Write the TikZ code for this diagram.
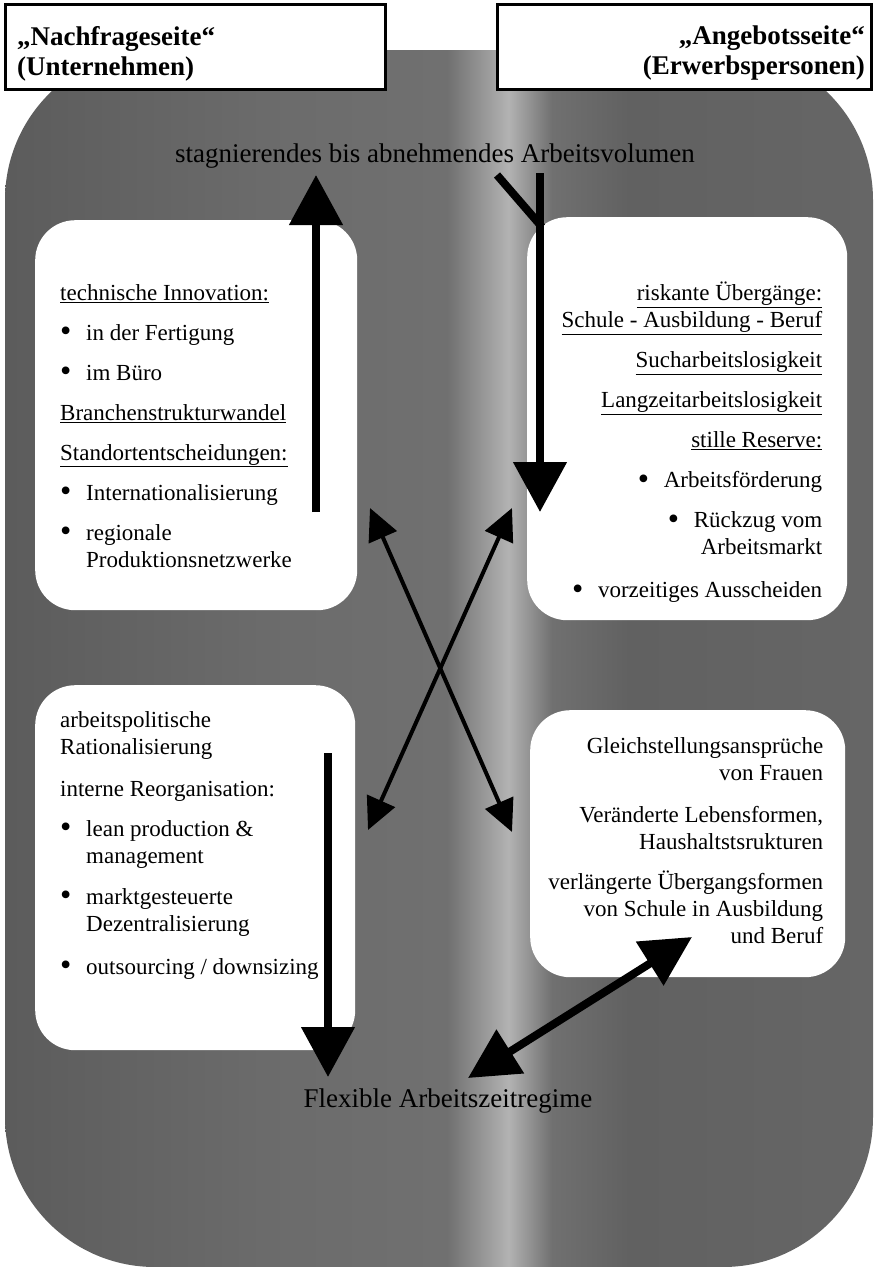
\documentclass[tikz,border=0pt]{standalone}
\usepackage{fontspec}
\setmainfont{Liberation Serif}
\usetikzlibrary{arrows.meta,positioning}

\pgfdeclarehorizontalshading{bandshade}{100bp}{%
  color(0bp)=(black!64); color(25bp)=(black!64); color(40bp)=(black!58);
  color(50.5bp)=(black!56); color(54bp)=(black!30); color(56.5bp)=(black!56);
  color(61bp)=(black!62); color(75bp)=(black!60); color(100bp)=(black!60)}

\newcommand{\bul}{\makebox[26pt][l]{\raisebox{-1.5pt}{\scalebox{1.4}{\textbullet}}}}

\begin{document}
\begin{tikzpicture}[
  x=1pt, y=-1pt,
  headbox/.style={draw=black, line width=3pt, fill=white, anchor=north west,
                  inner sep=0pt, outer sep=0pt},
  headtext/.style={font=\fontsize{27}{30}\selectfont\bfseries, inner sep=0pt},
  panel/.style={fill=white, rounded corners=40pt, anchor=north west, inner sep=0pt},
  list/.style={font=\fontsize{23}{27}\selectfont, inner sep=0pt},
  flow/.style={font=\fontsize{27}{30}\selectfont, inner sep=0pt, anchor=base},
  bigarr/.style={line width=8pt, -{Triangle[length=50pt,width=52pt]}},
  thinarr/.style={line width=4pt,
                  {Triangle[length=32pt,width=30pt]}-{Triangle[length=32pt,width=30pt]}},
  duoarr/.style={line width=8pt,
                 {Triangle[length=50pt,width=50pt]}-{Triangle[length=50pt,width=50pt]}}
]
\useasboundingbox (0,0) rectangle (875,1267);
\fill[white] (0,0) rectangle (875,1267);
\shade[shading=bandshade, rounded corners=150pt] (5,50) rectangle (873,1267);

\node[headbox, minimum width=380pt, minimum height=85pt] (nach) at (5,4) {};
\node[headbox, minimum width=374pt, minimum height=85pt] (ange) at (497,4) {};
\node[headtext, align=left, below right=22pt and 12pt of nach.north west] (nachtxt)
  {„Nachfrageseite“\\(Unternehmen)};
\node[headtext, align=right, below left=22pt and 6pt of ange.north east] (angetxt)
  {„Angebotsseite“\\(Erwerbspersonen)};

\node[panel, minimum width=322pt, minimum height=390pt] (tl) at (35,220) {};
\node[panel, minimum width=320pt, minimum height=403pt] (tr) at (527,217) {};
\node[panel, minimum width=320pt, minimum height=365pt] (bl) at (35,685) {};
\node[panel, minimum width=315pt, minimum height=267pt] (br) at (530,710) {};

\node[list, align=left, below right=64pt and 25pt of tl.north west] (tltxt) {%
  \underline{technische Innovation:}\\[13pt]
  \bul in der Fertigung\\[13pt]
  \bul im Büro\\[13pt]
  \underline{Branchenstrukturwandel}\\[13pt]
  \underline{Standortentscheidungen:}\\[13pt]
  \bul Internationalisierung\\[13pt]
  \bul regionale\\
  \hspace*{26pt}Produktionsnetzwerke};

\node[list, align=right, below left=65pt and 25pt of tr.north east] (trtxt) {%
  \underline{riskante Übergänge:}\\
  \underline{Schule - Ausbildung - Beruf}\\[13pt]
  \underline{Sucharbeitslosigkeit}\\[13pt]
  \underline{Langzeitarbeitslosigkeit}\\[13pt]
  \underline{stille Reserve:}\\[13pt]
  \bul Arbeitsförderung\\[13pt]
  \bul Rückzug vom\\
  Arbeitsmarkt\\[16pt]
  \bul vorzeitiges Ausscheiden};

\node[list, align=left, below right=26pt and 25pt of bl.north west] (bltxt) {%
  arbeitspolitische\\
  Rationalisierung\\[15pt]
  interne Reorganisation:\\[13pt]
  \bul lean production \&\\
  \hspace*{26pt}management\\[14pt]
  \bul marktgesteuerte\\
  \hspace*{26pt}Dezentralisierung\\[16pt]
  \bul outsourcing / downsizing};

\node[list, align=right, below left=27pt and 22pt of br.north east] (brtxt) {%
  Gleichstellungsansprüche\\
  von Frauen\\[15pt]
  Veränderte Lebensformen,\\
  Haushaltstsrukturen\\[13pt]
  verlängerte Übergangsformen\\
  von Schule in Ausbildung\\
  und Beruf};

\node[flow] (volumen) at (435,162) {stagnierendes bis abnehmendes Arbeitsvolumen};
\node[flow] (regime) at (448,1107) {Flexible Arbeitszeitregime};

\coordinate (upfoot) at (316,512);
\coordinate (uptip) at (316,175);
\coordinate (downtop) at (540,173);
\coordinate (downtip) at (540,512);
\coordinate (kinktop) at (497,175);
\coordinate (kinkfoot) at (542,227);
\coordinate (crossa) at (370,508);
\coordinate (crossb) at (512,832);
\coordinate (crossc) at (512,508);
\coordinate (crossd) at (368,830);
\coordinate (lowtop) at (328,753);
\coordinate (lowtip) at (328,1077);
\coordinate (duolow) at (468,1078);
\coordinate (duohigh) at (692,937);

\draw[bigarr] (upfoot) -- (uptip);
\draw[bigarr] (downtop) -- (downtip);
\draw[line width=8pt] (kinktop) -- (kinkfoot);
\draw[thinarr] (crossa) -- (crossb);
\draw[thinarr] (crossc) -- (crossd);
\draw[bigarr] (lowtop) -- (lowtip);
\draw[duoarr] (duolow) -- (duohigh);
\end{tikzpicture}
\end{document}
